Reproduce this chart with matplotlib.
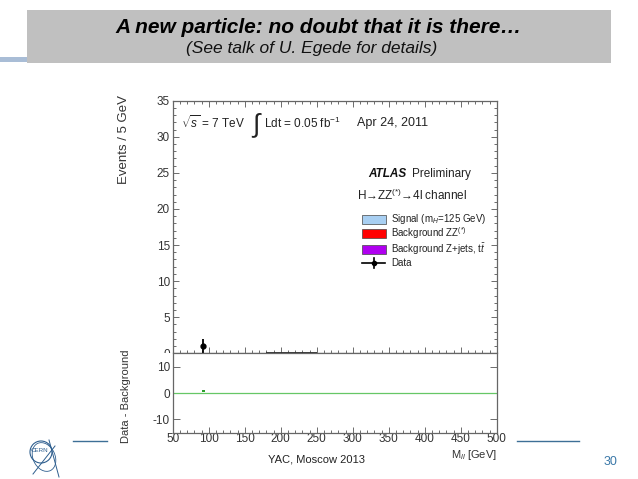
import matplotlib
matplotlib.use('Agg')
import matplotlib.pyplot as plt
from matplotlib.patches import Rectangle, Circle, Ellipse
from matplotlib.ticker import MultipleLocator, FixedLocator

plt.rcParams['font.family'] = ['Liberation Sans', 'DejaVu Sans']
plt.rcParams['mathtext.fontset'] = 'custom'
plt.rcParams['mathtext.rm'] = 'Liberation Sans'
plt.rcParams['mathtext.it'] = 'Liberation Sans:italic'
plt.rcParams['mathtext.bf'] = 'Liberation Sans:bold'
plt.rcParams['mathtext.sf'] = 'Liberation Sans'
plt.rcParams['axes.unicode_minus'] = False

# ---------------- data ----------------
title = "A new particle: no doubt that it is there…"
subtitle = "(See talk of U. Egede for details)"
footer = "YAC, Moscow 2013"
page_number = "30"

bin_width = 5
data_mass = [92.5]
data_events = [1]
data_err = [1]
zz_tail_start = [180]
zz_tail_end = [250]
zz_tail_level = [0.05]
diff_mass = [92.5]
diff_low = [0.3]
diff_high = [1.1]

x_ticks = [50, 100, 150, 200, 250, 300, 350, 400, 450, 500]
main_yticks = [0, 5, 10, 15, 20, 25, 30, 35]
diff_yticks = [-10, 0, 10]

legend_labels = ["Signal (m$_{H}$=125 GeV)", "Background ZZ$^{(*)}$",
                 "Background Z+jets, t$\\bar{t}$", "Data"]
legend_colors = ['#a8cff2', '#ff0000', '#b000f0']

W, H = 638, 479
fig = plt.figure(figsize=(W / 100, H / 100), dpi=100)
fig.patch.set_facecolor('white')


def rect(x0, y0, x1, y1):
    return [x0 / W, 1 - y1 / H, (x1 - x0) / W, (y1 - y0) / H]


frame_col = '#666666'
tick_col = '#555555'
lab_col = '#333333'

# ---------------- main panel ----------------
ax = fig.add_axes(rect(172.7, 100.7, 496.7, 353.3))
ax.set_xlim(x_ticks[0], x_ticks[-1])
ax.set_ylim(main_yticks[0], main_yticks[-1])
ax.xaxis.set_major_locator(FixedLocator(x_ticks))
ax.xaxis.set_minor_locator(MultipleLocator(10))
ax.yaxis.set_major_locator(FixedLocator(main_yticks))
ax.yaxis.set_minor_locator(MultipleLocator(1))
ax.tick_params(which='both', direction='in', top=True, right=True,
               labelbottom=False, labelsize=8.5, labelcolor=lab_col,
               color=tick_col, width=0.6, pad=2)
ax.tick_params(which='major', length=4.5)
ax.tick_params(which='minor', length=2.2)
for s in ax.spines.values():
    s.set_color(frame_col)
    s.set_linewidth(0.9)

ax.errorbar(data_mass, data_events, yerr=data_err, fmt='o', ms=3.5,
            color='black', elinewidth=1.3, capsize=0, zorder=5)
ax.hlines(zz_tail_level, zz_tail_start, zz_tail_end, color='#222222', lw=1.3)

# white pad that hides the lower half of the main "0" label
pad = fig.add_axes(rect(140, 353.3, 517, 450))
pad.set_facecolor('white')
pad.set_xticks([])
pad.set_yticks([])
for s in pad.spines.values():
    s.set_visible(False)

# ---------------- lower panel ----------------
ax2 = fig.add_axes(rect(172.7, 353.3, 496.7, 432.7))
ax2.set_xlim(x_ticks[0], x_ticks[-1])
ax2.set_ylim(-15, 15)
ax2.xaxis.set_major_locator(FixedLocator(x_ticks))
ax2.xaxis.set_minor_locator(MultipleLocator(10))
ax2.yaxis.set_major_locator(FixedLocator(diff_yticks))
ax2.tick_params(which='both', direction='in', right=True, top=False,
                labelsize=8.5, labelcolor=lab_col, color=tick_col,
                width=0.6, pad=2)
ax2.tick_params(axis='x', pad=0.5)
ax2.tick_params(axis='y', which='major', length=5)
ax2.tick_params(axis='x', which='major', length=4)
ax2.tick_params(axis='x', which='minor', length=2)
for s in ax2.spines.values():
    s.set_color(frame_col)
    s.set_linewidth(0.9)
ax2.axhline(0, color='#66c766', lw=0.9)
ax2.bar(diff_mass, [h - l for h, l in zip(diff_high, diff_low)],
        bottom=diff_low, width=bin_width * 0.8, color='#2ca02c')

# ---------------- overlay (slide decoration + annotations) ----------------
ov = fig.add_axes([0, 0, 1, 1], zorder=10)
ov.set_xlim(0, W)
ov.set_ylim(H, 0)
ov.axis('off')
ov.patch.set_visible(False)

ov.add_patch(Rectangle((27, 10), 584, 53, facecolor='#c0c0c0', edgecolor='none'))
ov.add_patch(Rectangle((0, 57), 27, 5, facecolor='#a9bdd6', edgecolor='none'))
ov.text(319, 27, title, ha='center', va='center', fontsize=15,
        fontweight='bold', fontstyle='italic', color='black')
ov.text(312, 48, subtitle, ha='center', va='center', fontsize=12.5,
        fontstyle='italic', color='#111111')

ov.plot([73, 107], [441.3, 441.3], color='#3d6f96', lw=1)
ov.plot([517, 579], [441.3, 441.3], color='#3d6f96', lw=1)
ov.text(316, 460, footer, ha='center', va='center', fontsize=8, color='#222222')
ov.text(611, 462, page_number, ha='center', va='center', fontsize=9, color='#3a78a8')

# CERN logo (sketch)
logo = '#2e5e8e'
ov.add_patch(Circle((41, 452), 11, fill=False, edgecolor=logo, lw=0.8))
ov.add_patch(Ellipse((44, 457), 22, 30, angle=-25, fill=False, edgecolor=logo, lw=0.6))
ov.plot([49, 59], [440, 477], color=logo, lw=0.7)
ov.plot([33, 55], [474, 446], color=logo, lw=0.7)
ov.text(39, 451, "CERN", ha='center', va='center', fontsize=4.5, color=logo)

# axis titles
ov.text(124, 95, "Events / 5 GeV", rotation=90, ha='center', va='top',
        fontsize=9.5, color=lab_col)
ov.text(126, 396, "Data - Background", rotation=90, ha='center', va='center',
        fontsize=8, color=lab_col)
ov.text(497, 455, "M$_{ll}$ [GeV]", ha='right', va='center', fontsize=8, color=lab_col)

# in-plot annotations
ov.text(181, 123, "$\\sqrt{s}$ = 7 TeV", ha='left', va='center', fontsize=8.5, color='#222222')
ov.text(252, 125, "∫", ha='left', va='center', fontsize=19, color='#222222')
ov.text(264, 123, "Ldt = 0.05 fb$^{-1}$", ha='left', va='center', fontsize=8.5, color='#222222')
ov.text(357, 123, "Apr 24, 2011", ha='left', va='center', fontsize=9, color='#222222')
ov.text(368, 174, "ATLAS", ha='left', va='center', fontsize=8.5, fontweight='bold',
        fontstyle='italic', color='#111111')
ov.text(412, 174, "Preliminary", ha='left', va='center', fontsize=8.5, color='#222222')
ov.text(357, 195, "H→ZZ$^{(*)}$→4l channel", ha='left', va='center', fontsize=8.5,
        color='#222222')

box_y = [219.5, 233.5, 249]
for yc, col in zip(box_y, legend_colors):
    ov.add_patch(Rectangle((362, yc - 4.5), 24, 9, facecolor=col,
                           edgecolor='#444444', lw=0.5))
data_y = 263.3
ov.plot([362, 385], [data_y, data_y], color='black', lw=1.2)
ov.plot([373.5, 373.5], [data_y - 5, data_y + 5], color='black', lw=1.2)
ov.plot([373.5], [data_y], 'o', color='black', ms=3)
for yc, lab in zip(box_y + [data_y], legend_labels):
    ov.text(391, yc, lab, ha='left', va='center', fontsize=7, color='#222222')

fig.savefig('out.png', dpi=100, facecolor='white')
